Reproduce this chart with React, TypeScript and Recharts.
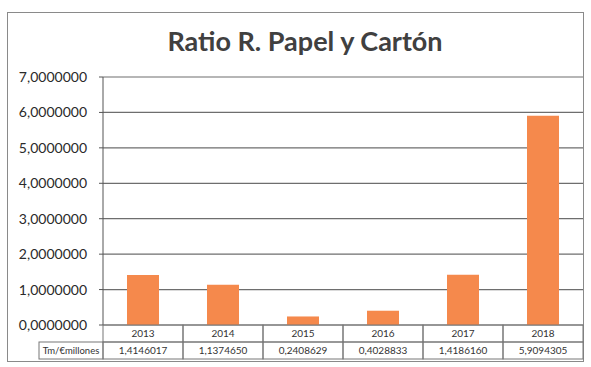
import { BarChart, Bar, XAxis, YAxis, CartesianGrid } from "recharts";

const YEARS = ["2013", "2014", "2015", "2016", "2017", "2018"];
const RATIO = [1.4146017, 1.137465, 0.2408629, 0.4028833, 1.418616, 5.9094305];
const Y_TICKS = [0, 1, 2, 3, 4, 5, 6, 7];
const ROW_LABEL = "Tm/€millones";

const data = YEARS.map((year, i) => ({ year, ratio: RATIO[i] }));

const fmt = (v: number) => v.toFixed(7).replace(".", ",");

// plot geometry (px)
const PLOT_LEFT = 103;
const PLOT_RIGHT = 583;
const PLOT_TOP = 77;
const PLOT_BOTTOM = 325;
const COL_W = (PLOT_RIGHT - PLOT_LEFT) / YEARS.length;
const ROW_H = 17;

// data table under the axis: year row + value row
function TableTick(props: any) {
  const { x, payload, index } = props;
  const left = x - COL_W / 2;
  const y0 = PLOT_BOTTOM;
  const y1 = y0 + ROW_H;
  const border = "#777";
  return (
    <g>
      <rect x={left} y={y0} width={COL_W} height={ROW_H} fill="none" stroke={border} />
      <rect x={left} y={y1} width={COL_W} height={ROW_H} fill="none" stroke={border} />
      <text x={x} y={y0 + 12} textAnchor="middle" fontSize={10} fill="#333">
        {payload.value}
      </text>
      <text x={x} y={y1 + 12} textAnchor="middle" fontSize={10} fill="#333">
        {fmt(RATIO[index])}
      </text>
      {index === 0 && (
        <g>
          <rect x={39} y={y1} width={left - 39} height={ROW_H} fill="none" stroke={border} />
          <text x={(39 + left) / 2} y={y1 + 12} textAnchor="middle" fontSize={9.5} fill="#333">
            {ROW_LABEL}
          </text>
        </g>
      )}
    </g>
  );
}

export default function App() {
  return (
    <div
      style={{
        position: "absolute",
        left: 0,
        top: 0,
        width: 591,
        height: 367,
        background: "#fff",
        fontFamily: "Lato, sans-serif",
      }}
    >
      <div
        style={{
          position: "absolute",
          left: 7,
          top: 12,
          width: 577,
          height: 350,
          border: "1px solid #8a8a8a",
          boxSizing: "border-box",
        }}
      />
      <div
        style={{
          position: "absolute",
          left: 105,
          width: 400,
          top: 24,
          textAlign: "center",
          fontSize: 27,
          fontWeight: 700,
          color: "#404040",
          whiteSpace: "nowrap",
        }}
      >
        Ratio R. Papel y Cartón
      </div>
      <div style={{ position: "absolute", left: 0, top: 0 }}>
        <BarChart
          width={591}
          height={367}
          data={data}
          margin={{ top: PLOT_TOP, right: 591 - PLOT_RIGHT, left: 8, bottom: 367 - PLOT_BOTTOM - 36 }}
        >
          <CartesianGrid vertical={false} stroke="#6e6e6e" strokeWidth={1.2} />
          <XAxis
            dataKey="year"
            height={36}
            axisLine={false}
            tickLine={false}
            interval={0}
            tick={<TableTick />}
          />
          <YAxis
            width={PLOT_LEFT - 8}
            domain={[0, 7]}
            ticks={Y_TICKS}
            tickFormatter={fmt}
            tickSize={4}
            tickMargin={12}
            axisLine={{ stroke: "#555" }}
            tickLine={{ stroke: "#555" }}
            tick={{ fill: "#2a2a2a", fontSize: 14 }}
          />
          <Bar dataKey="ratio" fill="#F5894C" barSize={32} isAnimationActive={false} />
        </BarChart>
      </div>
    </div>
  );
}
